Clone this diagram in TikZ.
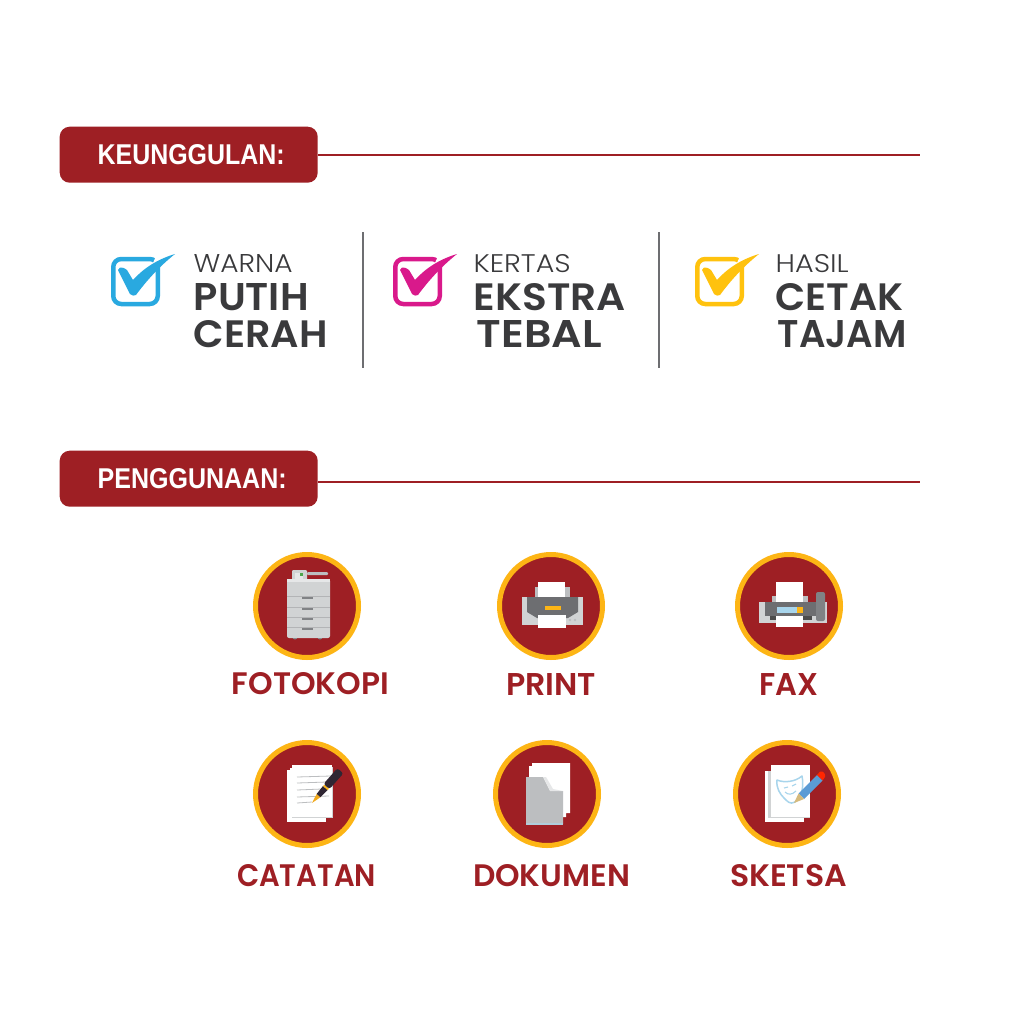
\documentclass[tikz,border=0pt]{standalone}
\usepackage{fontspec}
\usepackage{graphicx}
\setmainfont{Poppins}
\newfontfamily\lightf{Poppins Light}
\newfontfamily\semif{Poppins SemiBold}
\newfontfamily\pillf{Liberation Sans}
\newdimen\pxu \pxu=0.01cm
\newcommand\fitbox[3]{\resizebox{#1\pxu}{#2\pxu}{#3}}
\definecolor{brick}{HTML}{9E1F24}
\definecolor{ringy}{HTML}{FDB515}
\definecolor{ink}{HTML}{3A3A3C}
\definecolor{cblue}{HTML}{29A9E0}
\definecolor{cpink}{HTML}{D9198B}
\definecolor{cyell}{HTML}{FFC20E}
\definecolor{g1}{HTML}{D1D3D4}
\definecolor{g2}{HTML}{BCBEC0}
\definecolor{g3}{HTML}{808285}
\definecolor{g4}{HTML}{6D6E71}
\definecolor{g5}{HTML}{E6E7E8}
\definecolor{maskc}{HTML}{A8D5EC}
\definecolor{penc}{HTML}{2F2633}
\definecolor{pencilc}{HTML}{5B9BD5}
\tikzset{
  x=0.01cm,y=-0.01cm,
  pillbox/.style={fill=brick,rounded corners=10\pxu,minimum width=258\pxu,minimum height=56\pxu,inner sep=0pt,anchor=north west},
  pilltext/.style={text=white,inner sep=0pt,anchor=west,font=\pillf\bfseries},
  hrule/.style={draw=brick,line width=2\pxu},
  sepline/.style={draw=g4,line width=2\pxu},
  badge/.style={circle,fill=brick,draw=ringy,line width=5\pxu,minimum size=103\pxu,inner sep=0pt},
  caplabel/.style={text=brick,inner sep=0pt,font=\semif},
  bigtext/.style={text=ink,inner sep=0pt,anchor=north west,font=\semif},
  smalltext/.style={text=ink,inner sep=0pt,anchor=north west,font=\lightf},
  chkbox/.style={draw=#1,line width=4.5\pxu,rounded corners=8\pxu,fill=white},
  sheet/.style={fill=white,draw=none},
}
\newcommand\chkmark[2]{%
  \begin{scope}[xshift=#1*0.01cm]
    \draw[chkbox=#2] (113.25,259) rectangle (157.75,304);
    \fill[white] (150,270) -- (156,256) -- (165,256) -- (156,270) -- cycle;
    \fill[#2] (118,270) -- (120,267.5) .. controls (122,267) and (124,268) .. (127,270) -- (133,280) .. controls (142,270) and (155,260) .. (175,254) .. controls (160,266) and (147,280) .. (136,295) .. controls (134,296) and (132,296) .. (130,294) -- cycle;
  \end{scope}}
\begin{document}
\begin{tikzpicture}
\useasboundingbox (0,0) rectangle (1024,1024);
\fill[white] (0,0) rectangle (1024,1024);

% headers
\node[pillbox] (h1) at (59,126) {};
\node[pilltext] (h1t) at (97,155) {\fitbox{187}{20}{KEUNGGULAN:}};
\coordinate (h1e) at (920,154.5);
\draw[hrule] (h1.east |- h1e) -- (h1e);
\node[pillbox] (h2) at (59,450) {};
\node[pilltext] (h2t) at (97,478.5) {\fitbox{189}{20}{PENGGUNAAN:}};
\coordinate (h2e) at (920,481.5);
\draw[hrule] (h2.east |- h2e) -- (h2e);

% separators
\coordinate (s1a) at (362.5,232); \coordinate (s1b) at (362.5,368);
\coordinate (s2a) at (659,232); \coordinate (s2b) at (659,368);
\draw[sepline] (s1a) -- (s1b);
\draw[sepline] (s2a) -- (s2b);

% check marks
\chkmark{0}{cblue}
\chkmark{282}{cpink}
\chkmark{584}{cyell}

% advantages
\node[smalltext] (a1) at (193,254) {\fitbox{99}{18}{WARNA}};
\node[bigtext] (a2) at (193,283) {\fitbox{115}{27}{PUTIH}};
\node[bigtext] (a3) at (193,320) {\fitbox{134}{27}{CERAH}};
\node[smalltext] (b1t) at (473,254) {\fitbox{97}{18}{KERTAS}};
\node[bigtext] (b2t) at (473,283) {\fitbox{152}{27}{EKSTRA}};
\node[bigtext] (b3t) at (476,320) {\fitbox{125}{27}{TEBAL}};
\node[smalltext] (c1t) at (775,254) {\fitbox{73}{18}{HASIL}};
\node[bigtext] (c2t) at (775,283) {\fitbox{128}{27}{CETAK}};
\node[bigtext] (c3t) at (777,320) {\fitbox{129}{27}{TAJAM}};

% badges
\node[badge] (fk) at (307,606) {};
\node[badge] (pr) at (551,606) {};
\node[badge] (fx) at (789,606) {};
\node[badge] (ct) at (307,794) {};
\node[badge] (dk) at (547,794) {};
\node[badge] (sk) at (787,794) {};

% labels
\node[caplabel] (lfk) at (310.5,684) {\fitbox{157}{22}{FOTOKOPI}};
\node[caplabel] (lpr) at (551,684) {\fitbox{90}{22}{PRINT}};
\node[caplabel] (lfx) at (788.5,684) {\fitbox{59}{22}{FAX}};
\node[caplabel] (lct) at (306.5,876) {\fitbox{139}{22}{CATATAN}};
\node[caplabel] (ldk) at (551.5,876) {\fitbox{157}{22}{DOKUMEN}};
\node[caplabel] (lsk) at (788.5,876) {\fitbox{117}{22}{SKETSA}};

% copier
\fill[g3] (295,637) circle[radius=2.5] (320,637) circle[radius=2.5];
\fill[g2,rounded corners=1\pxu] (307,572) rectangle (328,575);
\fill[g1,rounded corners=1\pxu] (292,570) rectangle (307,582);
\fill[g5] (295,573) rectangle (303,581);
\fill[green!50!black!70] (300,573) rectangle (303,576);
\fill[g1,rounded corners=2\pxu] (287,579) rectangle (330,638);
\fill[g5] (287,579) rectangle (330,582);
\foreach \yy in {596,606.5,617,627}{
  \fill[g3!60] (287,\yy) rectangle (330,\yy+0.7);
  \fill[g3] (302,\yy+1) rectangle (313,\yy+3);
}
% printer
\fill[g2] (535,587) rectangle (570,600);
\fill[sheet] (538,582) rectangle (565,599);
\fill[g1] (522,597) rectangle (583,625);
\fill[g4] (527,597) -- (578,597) -- (578,612) -- (568,618) -- (537,618) -- (527,612) -- cycle;
\fill[ringy] (545,606) rectangle (561,609.5);
\fill[sheet] (538,615) rectangle (566,628);
\fill[g2] (570,620) circle[radius=1.3] (575,620) circle[radius=1.3];
% fax
\fill[g2] (772,596) rectangle (808,604);
\fill[sheet] (776,582) rectangle (803,602);
\fill[g1] (759,602) rectangle (827,623);
\fill[g4] (765,602) rectangle (817,616);
\fill[black!70] (770,616) rectangle (812,620);
\fill[maskc] (777,607) rectangle (797,613);
\fill[ringy] (797,607) rectangle (803,613);
\fill[sheet] (776,616) rectangle (803,627);
\fill[g3,rounded corners=2\pxu] (816,592) rectangle (825,621);
% notes
\fill[sheet] (287,770) rectangle (326,822);
\fill[g1] (290,768) rectangle (331,818);
\fill[sheet] (290,768) rectangle (327,818);
\fill[g1] (292,767) rectangle (333,817.5);
\fill[sheet] (292,765) rectangle (332,817);
\foreach \yy/\xe in {777/331,783/327,790/322,797/329,803/312}{
  \draw[g2,line width=0.8\pxu] (297,\yy) -- (\xe,\yy-1);
}
\fill[ringy!80!brown] (312,803) -- (316.7,793.9) -- (320.5,797.2) -- cycle;
\fill[penc] (316.7,793.9) -- (323,786) -- (327.5,790) -- (320.5,797.2) -- cycle;
\fill[ringy] (323,786) -- (324.5,784.8) -- (329,788.8) -- (327.5,790) -- cycle;
\fill[penc,rounded corners=2.5\pxu] (323.5,783.9) -- (337.4,768.2) -- (343.4,773.4) -- (329.5,789.1) -- cycle;
% documents
\fill[sheet] (529,766) -- (532,766) -- (532,763) -- (570,763) -- (570,813) -- (566,813) -- (566,817) -- (529,817) -- cycle;
\fill[g2] (526,777) -- (543,777) -- (550,791) -- (563,791) -- (563,824) -- (526,824) -- cycle;
\fill[g5] (543,777) -- (546,777) -- (553,789) -- (563,791) -- (550,791) -- cycle;
\fill[maskc!60!g2] (526,823) rectangle (563,824.5);
% sketch
\fill[sheet] (765,771) rectangle (804,822);
\fill[g1] (768,771) rectangle (810,818);
\fill[sheet] (771,765) rectangle (810,817);
\draw[maskc,line width=1.5\pxu,line join=round] (777,780) .. controls (784,783) and (795,782) .. (802,776) .. controls (804,786) and (802,797) .. (795,802) .. controls (790,805) and (787,801) .. (784,798) .. controls (780,794) and (776,788) .. (777,780) -- cycle;
\draw[maskc,line width=1.1\pxu] (784,788) -- (788,787) (792,786) -- (796,784) (785,792) .. controls (788,795) and (792,795) .. (796,791);
\fill[pencilc] (798.5,793.5) -- (817,775) -- (822.5,780.5) -- (804,799) -- cycle;
\fill[red!70!orange] (817,775) -- (820,771.5) .. controls (823,770.5) and (826,774) .. (825,777) -- (822.5,780.5) -- cycle;
\fill[g2!60!ringy] (798.5,793.5) -- (804,799) -- (794,803) -- cycle;
\end{tikzpicture}
\end{document}
